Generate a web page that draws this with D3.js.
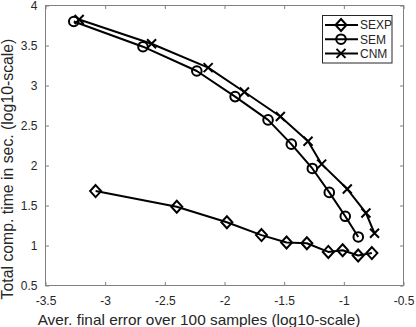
<!DOCTYPE html>
<html><head><meta charset="utf-8">
<script src="https://cdn.jsdelivr.net/npm/d3@7/dist/d3.min.js"></script>
<style>body{margin:0;background:#fff}svg{display:block}text{font-family:"Liberation Sans",Arial,sans-serif;fill:#262626}</style>
</head><body>
<script>
const seriesNames = ["SEXP", "SEM", "CNM"];
const sexpX = [-3.08, -2.40, -1.98, -1.69, -1.48, -1.31, -1.13, -1.01, -0.88, -0.765];
const sexpY = [1.68, 1.485, 1.29, 1.13, 1.037, 1.028, 0.92, 0.94, 0.875, 0.905];
const semX = [-3.263, -2.683, -2.232, -1.911, -1.635, -1.44, -1.264, -1.122, -0.988, -0.879];
const semY = [3.80, 3.485, 3.181, 2.861, 2.57, 2.267, 1.963, 1.664, 1.365, 1.107];
const cnmX = [-3.218, -2.611, -2.137, -1.833, -1.532, -1.30, -1.186, -0.971, -0.815, -0.743];
const cnmY = [3.825, 3.522, 3.223, 2.919, 2.612, 2.304, 2.017, 1.706, 1.407, 1.153];
const xTicks = [-3.5, -3, -2.5, -2, -1.5, -1, -0.5];
const yTicks = [0.5, 1, 1.5, 2, 2.5, 3, 3.5, 4];
const xLabel = "Aver. final error over 100 samples (log10-scale)";
const yLabel = "Total comp. time in sec. (log10-scale)";

const W = 416, H = 327;
const L = 45.5, R = 403.5, T = 5.5, B = 285.5;
const svg = d3.select("body").append("svg").attr("width", W).attr("height", H);
const x = d3.scaleLinear().domain([-3.5, -0.5]).range([L, R]);
const y = d3.scaleLinear().domain([0.5, 4]).range([B, T]);
const axisCol = "#808080";
const tk = 3.5;

svg.append("rect").attr("x", L).attr("y", T).attr("width", R - L).attr("height", B - T)
  .attr("fill", "none").attr("stroke", axisCol).attr("stroke-width", 1);

const fmt = d => String(d);
const gx = svg.append("g").attr("transform", `translate(0,${B})`)
  .call(d3.axisBottom(x).tickValues(xTicks).tickSize(-tk).tickPadding(10.5).tickFormat(fmt));
const gxt = svg.append("g").attr("transform", `translate(0,${T})`)
  .call(d3.axisTop(x).tickValues(xTicks).tickSize(-tk).tickFormat(""));
const gy = svg.append("g").attr("transform", `translate(${L},0)`)
  .call(d3.axisLeft(y).tickValues(yTicks).tickSize(-tk).tickPadding(8).tickFormat(fmt));
const gyr = svg.append("g").attr("transform", `translate(${R},0)`)
  .call(d3.axisRight(y).tickValues(yTicks).tickSize(-tk).tickFormat(""));
[gx, gxt, gy, gyr].forEach(g => {
  g.select(".domain").remove();
  g.selectAll(".tick line").attr("stroke", axisCol);
  g.selectAll("text").attr("font-size", 12).attr("fill", "#262626")
    .style("font-family", '"Liberation Sans",Arial,sans-serif');
});
gx.selectAll("text").attr("dy", "0.71em");

function fitText(t, target) {
  const w = t.node().getComputedTextLength();
  const fs = +t.attr("font-size");
  t.attr("font-size", (fs * target / w).toFixed(2));
}
const xl = svg.append("text").attr("x", 199).attr("y", 324.5).attr("text-anchor", "middle")
  .attr("font-size", 14).text(xLabel);
fitText(xl, 323);
const yl = svg.append("text").attr("transform", `translate(13,169) rotate(-90)`)
  .attr("text-anchor", "middle").attr("font-size", 14).text(yLabel);
fitText(yl, 261);

const line = d3.line().x(d => x(d[0])).y(d => y(d[1]));
const data = [d3.zip(sexpX, sexpY), d3.zip(semX, semY), d3.zip(cnmX, cnmY)];
const marker = (g, type) => {
  if (type === 0) g.append("path").attr("d", "M0,-6L5.5,0L0,6L-5.5,0Z");
  else if (type === 1) g.append("circle").attr("r", 4.8);
  else g.append("path").attr("d", "M-4.5,-4.5L4.5,4.5M-4.5,4.5L4.5,-4.5");
};
data.forEach((pts, i) => {
  svg.append("path").datum(pts).attr("d", line).attr("fill", "none")
    .attr("stroke", "#000").attr("stroke-width", 2).attr("stroke-linejoin", "round");
  pts.forEach(p => {
    const g = svg.append("g").attr("transform", `translate(${x(p[0])},${y(p[1])})`)
      .attr("fill", "none").attr("stroke", "#000").attr("stroke-width", 2);
    marker(g, i);
  });
});

const lg = svg.append("g");
lg.append("rect").attr("x", 322.5).attr("y", 15.5).attr("width", 69.5).attr("height", 47.5)
  .attr("fill", "#fff").attr("stroke", "#262626").attr("stroke-width", 1);
seriesNames.forEach((n, i) => {
  const yy = 25 + i * 14.2;
  lg.append("line").attr("x1", 325).attr("x2", 358).attr("y1", yy).attr("y2", yy)
    .attr("stroke", "#000").attr("stroke-width", 2);
  const g = lg.append("g").attr("transform", `translate(341,${yy})`)
    .attr("fill", "none").attr("stroke", "#000").attr("stroke-width", 2);
  marker(g, i);
  lg.append("text").attr("x", 360).attr("y", yy).attr("dy", "0.36em").attr("font-size", 12).text(n);
});
</script>
</body></html>
